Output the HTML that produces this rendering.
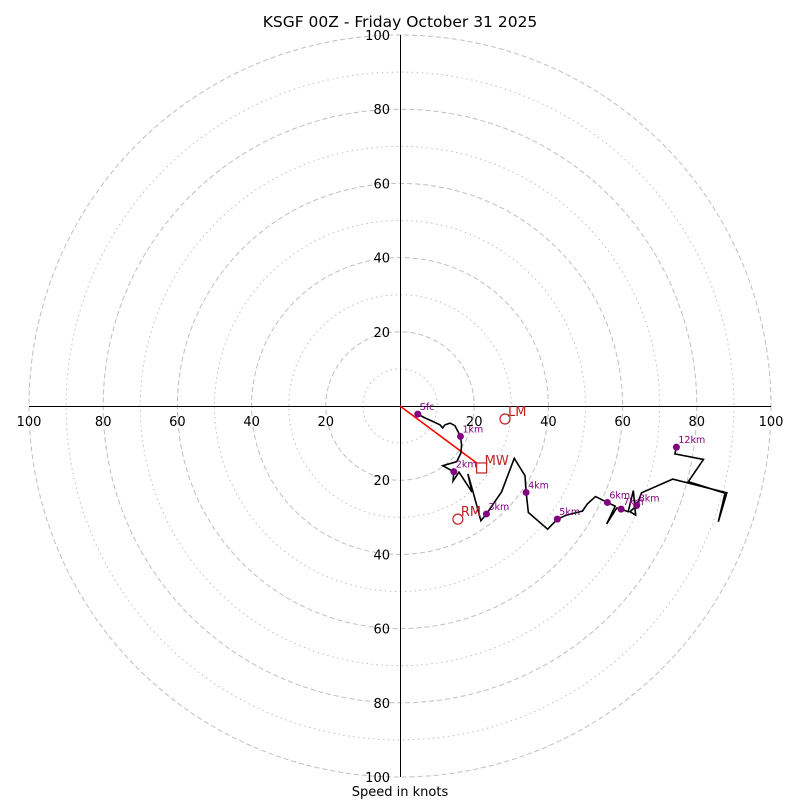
<!DOCTYPE html>
<html><head><meta charset="utf-8"><style>
body{margin:0;background:#fff;font-family:"Liberation Sans","DejaVu Sans",sans-serif}
svg text{font-family:"DejaVu Sans","Liberation Sans",sans-serif}
</style></head><body>
<svg id="c" width="800" height="800" viewBox="0 0 800 800" xmlns="http://www.w3.org/2000/svg">
<rect width="800" height="800" fill="#fff"/>
<text x="400" y="27" text-anchor="middle" font-size="15.5">KSGF 00Z - Friday October 31 2025</text>
<text x="400" y="796" text-anchor="middle" font-size="13">Speed in knots</text>
<g id="rings"></g><g id="axes"></g><g id="ticks"></g><g id="trace"></g><g id="marks"></g>
</svg>
<script>
const ringSpeeds=[10,20,30,40,50,60,70,80,90,100];
const tickLabels=[20,40,60,80,100];
const traceU=[4.8,6.7,8.5,10.8,11.5,12.1,13.5,14.8,16.3,16.6,16.4,15.3,11.5,14.5,14.3,15.9,19.4,18.3,19.7,21.8,23.3,27.4,30.8,33.7,34.0,34.6,39.8,42.4,44.9,49.2,50.5,52.7,55.9,58.0,55.7,58.4,59.6,61.5,62.9,63.5,62.0,63.8,65.1,73.5,88.1,85.8,87.6,77.7,81.8,74.1,74.5];
const traceV=[-2.2,-3.2,-4.0,-5.1,-5.9,-5.1,-4.6,-5.3,-8.2,-10.5,-12.7,-15.0,-16.1,-17.7,-20.2,-17.8,-23.2,-18.3,-23.2,-30.9,-29.1,-23.1,-14.1,-18.8,-23.3,-28.7,-33.2,-30.5,-29.4,-28.3,-26.4,-24.4,-26.0,-27.0,-31.8,-27.5,-27.8,-28.5,-22.8,-29.4,-28.5,-26.8,-23.4,-19.7,-23.4,-31.2,-23.5,-20.4,-14.4,-12.9,-11.1];
const hgtLabels=["Sfc","1km","2km","3km","4km","5km","6km","7km","8km","12km"];
const hgtU=[4.8,16.3,14.5,23.3,34.0,42.4,55.9,59.6,63.8,74.5];
const hgtV=[-2.2,-8.2,-17.7,-29.1,-23.3,-30.5,-26.0,-27.8,-26.8,-11.1];
const motionLabels=["LM","MW","RM"];
const motionU=[28.3,22.0,15.6];
const motionV=[-3.5,-16.7,-30.5];
const shearU=[0,20.7];
const shearV=[0,-15.4];
const CX=400,CY=406,S=3.71;
const px=u=>CX+u*S, py=v=>CY-v*S;
const NS="http://www.w3.org/2000/svg";
function mk(t,a,p){const e=document.createElementNS(NS,t);for(const k in a)e.setAttribute(k,a[k]);p.appendChild(e);return e;}
const rings=document.getElementById('rings');
ringSpeeds.forEach(r=>{const e=mk('circle',{cx:CX,cy:CY,r:r*S,fill:'none',stroke:'#bfbfbf','stroke-width':1,'stroke-dasharray':r%20===0?'5,3':'1.5,3.5'},rings);

});
const axes=document.getElementById('axes');
const ax1=mk('line',{x1:px(-100),y1:CY+0.5,x2:px(100),y2:CY+0.5,stroke:'#000','stroke-width':1,'shape-rendering':'crispEdges'},axes);


const ax2=mk('line',{x1:CX+0.5,y1:py(100),x2:CX+0.5,y2:py(-100),stroke:'#000','stroke-width':1,'shape-rendering':'crispEdges'},axes);


const ticks=document.getElementById('ticks');
tickLabels.forEach(t=>{
 [t,-t].forEach(s=>{
  const a=mk('text',{x:px(s),y:CY+20,'text-anchor':'middle','font-size':13},ticks);a.textContent=t;
  
  
  const b=mk('text',{x:CX-10,y:py(s)+5,'text-anchor':'end','font-size':13},ticks);b.textContent=t;
  
  
 });
});
const tr=document.getElementById('trace');
const sh=mk('line',{x1:px(shearU[0]),y1:py(shearV[0]),x2:px(shearU[1]),y2:py(shearV[1]),stroke:'#f00','stroke-width':1.6},tr);


const pl=mk('polyline',{points:traceU.map((u,i)=>px(u)+','+py(traceV[i])).join(' '),fill:'none',stroke:'#000','stroke-width':1.6},tr);


const mg=document.getElementById('marks');
hgtLabels.forEach((l,i)=>{
 const c=mk('circle',{cx:px(hgtU[i]),cy:py(hgtV[i]),r:3.5,fill:'#800080'},mg);
 
 
 const t=mk('text',{x:px(hgtU[i])+2,y:py(hgtV[i])-4,'font-size':9.5,fill:'#800080'},mg);t.textContent=l;
 
 
});
motionLabels.forEach((l,i)=>{
 const x=px(motionU[i]),y=py(motionV[i]);
 const m=l==='MW'?mk('rect',{x:x-5,y:y-5,width:10,height:10,fill:'none',stroke:'#c02020','stroke-width':1.2},mg):mk('circle',{cx:x,cy:y,r:5,fill:'none',stroke:'#c02020','stroke-width':1.2},mg);
 
 
 const t=mk('text',{x:x+3,y:y-3,'font-size':13,fill:'#c02020'},mg);t.textContent=l;
 
 
});
</script>
</body></html>
